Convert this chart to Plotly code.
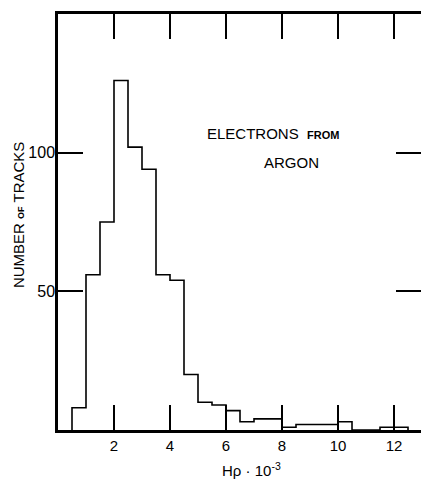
import plotly.graph_objects as go

# Histogram data: H rho * 10^-3 bins of width 0.5, counts of tracks
bin_left_edges = [0.5, 1.0, 1.5, 2.0, 2.5, 3.0, 3.5, 4.0, 4.5, 5.0, 5.5, 6.0,
                  6.5, 7.0, 7.5, 8.0, 8.5, 9.0, 9.5, 10.0, 10.5, 11.0, 11.5, 12.0]
bin_width = 0.5
counts = [8, 56, 75, 126, 102, 94, 56, 54, 20, 10, 9, 7,
          3, 4, 4, 1, 2, 2, 2, 3, 0, 0, 1, 1]

x_ticks = [2, 4, 6, 8, 10, 12]
x_tick_labels = ["2", "4", "6", "8", "10", "12"]
y_ticks = [50, 100]
y_tick_labels = ["50", "100"]

x_range = [0, 12.964]
y_range = [0, 150]

# step outline (hv) built from bins
step_x = [bin_left_edges[0]] + bin_left_edges + [bin_left_edges[-1] + bin_width]
step_y = [0] + counts + [0]

FONT = "Liberation Sans"

fig = go.Figure()
fig.add_trace(go.Scatter(
    x=step_x, y=step_y, mode="lines", line=dict(shape="hv", color="black", width=1.6),
    hoverinfo="skip", showlegend=False,
))
# empty trace to anchor the right-hand tick axis
fig.add_trace(go.Scatter(x=[None], y=[None], yaxis="y2", mode="lines",
                         showlegend=False, hoverinfo="skip"))

fig.update_layout(
    width=421, height=481,
    margin=dict(l=58, r=0, t=14, b=51, autoexpand=False),
    paper_bgcolor="white", plot_bgcolor="white",
    font=dict(family=FONT, color="black", size=15),
    showlegend=False,
    xaxis=dict(
        range=x_range, tickvals=x_ticks, ticktext=x_tick_labels,
        ticks="inside", ticklen=25, tickwidth=1.5, tickcolor="black",
        showline=True, linewidth=2.5, linecolor="black", mirror="ticks",
        showgrid=False, zeroline=False, tickfont=dict(size=15),
        automargin=False,
    ),
    yaxis=dict(
        range=y_range, tickvals=y_ticks, ticktext=y_tick_labels,
        ticks="inside", ticklen=25, tickwidth=1.5, tickcolor="black",
        showline=True, linewidth=2.5, linecolor="black", mirror=False,
        showgrid=False, zeroline=False, tickfont=dict(size=16),
        ticklabelstandoff=-3, automargin=False,
    ),
    yaxis2=dict(
        range=y_range, tickvals=y_ticks, overlaying="y", side="right", anchor="x",
        ticks="inside", ticklen=25, tickwidth=1.5, tickcolor="black",
        showticklabels=False, showline=False, showgrid=False, zeroline=False,
        automargin=False,
    ),
    annotations=[
        dict(text="ELECTRONS  <span style='font-size:11px;font-weight:bold'>FROM</span>",
             x=5.25, y=107, xref="x", yref="y", xanchor="left", yanchor="middle",
             showarrow=False, font=dict(size=15)),
        dict(text="ARGON", x=7.29, y=96.3, xref="x", yref="y", xanchor="left",
             yanchor="middle", showarrow=False, font=dict(size=15)),
        dict(text="Hρ · 10<sup>-3</sup>", x=0.534, y=-0.094, xref="paper", yref="paper",
             xanchor="center", yanchor="middle", showarrow=False, font=dict(size=15)),
        dict(text="NUMBER <span style='font-size:9px;font-weight:bold'>OF</span> TRACKS",
             x=-0.107, y=0.517, xref="paper", yref="paper", textangle=-90,
             xanchor="center", yanchor="middle", showarrow=False, font=dict(size=15)),
    ],
)

# remove the default 8px page margin so the figure fills the window exactly
fig.write_html("out.html",
               config={"displayModeBar": False},
               post_script="document.body.style.margin='0';document.body.style.overflow='hidden';")
